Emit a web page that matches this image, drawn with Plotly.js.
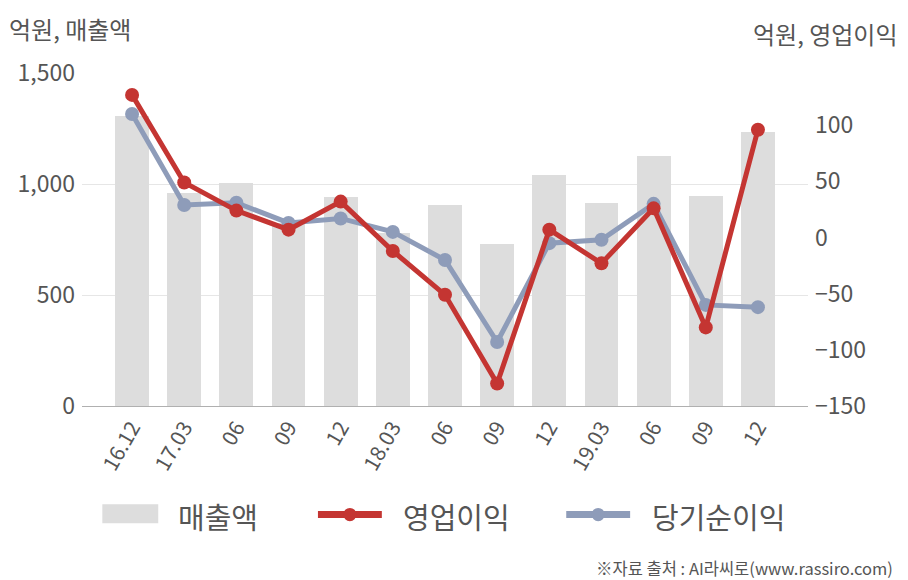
<!DOCTYPE html>
<html><head><meta charset="utf-8">
<script src="https://cdn.plot.ly/plotly-3.0.1.min.js"></script>
<style>html,body{margin:0;padding:0;background:#fff}#c{width:908px;height:580px}</style>
</head><body><div id="c"></div>
<script>
const categories = ["16.12","17.03","06","09","12","18.03","06","09","12","19.03","06","09","12"];
const sales = [1308, 959, 1004, 825, 940, 779, 906, 730, 1042, 914, 1128, 947, 1233];
const opProfit = [127, 49, 24, 7, 32, -12, -51, -130, 7, -23, 26, -80, 96];
const netIncome = [110, 29, 31, 13, 17, 5, -20, -93, -5, -2, 30, -60, -62];
const leftTicks = [0, 500, 1000, 1500];
const leftTickText = ["0", "500", "1,000", "1,500"];
const rightTicks = [-150, -100, -50, 0, 50, 100];

const idx = categories.map((_, i) => i);
const FONT = "'Noto Sans CJK KR', 'Noto Sans', sans-serif";
const RED = "#c43532", BLUE = "#8e9cb9", BAR = "#dddddd", TXT = "#555";

const traces = [
  {type: "bar", x: idx, y: sales, name: "매출액", marker: {color: BAR}, width: 0.65, yaxis: "y", showlegend: false, hoverinfo: "skip"},
  {type: "scatter", mode: "lines+markers", x: idx, y: netIncome, name: "당기순이익", yaxis: "y2",
   line: {color: BLUE, width: 5}, marker: {color: BLUE, size: 14}, showlegend: false},
  {type: "scatter", mode: "lines+markers", x: idx, y: opProfit, name: "영업이익", yaxis: "y2",
   line: {color: RED, width: 5}, marker: {color: RED, size: 14}, showlegend: false}
];

const layout = {
  width: 908, height: 580,
  margin: {l: 82, r: 100, t: 73, b: 174},
  paper_bgcolor: "#fff", plot_bgcolor: "#fff",
  font: {family: FONT, color: TXT},
  showlegend: false,
  bargap: 0,
  xaxis: {
    range: [-0.96, 12.96], tickvals: idx, ticktext: categories, tickangle: -60,
    tickfont: {size: 21, color: TXT, family: FONT},
    showgrid: false, showline: true, linecolor: "#b0b0b0", linewidth: 1,
    ticks: "", zeroline: false, fixedrange: true
  },
  yaxis: {
    range: [0, 1500], tickvals: leftTicks, ticktext: leftTickText,
    tickfont: {size: 23, color: TXT, family: FONT},
    showgrid: true, gridcolor: "#e6e6e6", gridwidth: 1, zeroline: false,
    ticks: "", ticklabelstandoff: 6, showline: false
  },
  yaxis2: {
    overlaying: "y", side: "right", range: [-150, 146.5], tickvals: rightTicks,
    tickfont: {size: 23, color: TXT, family: FONT},
    showgrid: false, zeroline: false, ticks: "", ticklabelstandoff: 6, showline: false
  },
  annotations: [
    {xref: "paper", yref: "paper", x: -0.103, y: 1, xanchor: "left", yanchor: "bottom", yshift: 25,
     text: "억원, 매출액", showarrow: false, font: {size: 24, color: TXT, family: FONT}},
    {xref: "paper", yref: "paper", x: 1.127, y: 1, xanchor: "right", yanchor: "bottom", yshift: 20,
     text: "억원, 영업이익", showarrow: false, font: {size: 24, color: TXT, family: FONT}},
    {xref: "paper", yref: "paper", x: 0.13, y: -0.33, xanchor: "left", yanchor: "middle",
     text: "매출액", showarrow: false, font: {size: 29, color: TXT, family: FONT}},
    {xref: "paper", yref: "paper", x: 0.44, y: -0.33, xanchor: "left", yanchor: "middle",
     text: "영업이익", showarrow: false, font: {size: 29, color: TXT, family: FONT}},
    {xref: "paper", yref: "paper", x: 0.783, y: -0.33, xanchor: "left", yanchor: "middle",
     text: "당기순이익", showarrow: false, font: {size: 29, color: TXT, family: FONT}},
    {xref: "paper", yref: "paper", x: 1.12, y: -0.485, xanchor: "right", yanchor: "middle",
     text: "※자료 출처 : AI라씨로(www.rassiro.com)", showarrow: false, font: {size: 16.5, color: TXT, family: FONT}}
  ],
  shapes: [
    {type: "rect", xref: "paper", yref: "paper", x0: 0.028, x1: 0.105, y0: -0.352, y1: -0.295, fillcolor: BAR, line: {width: 0}},
    {type: "line", xref: "paper", yref: "paper", x0: 0.325, x1: 0.413, y0: -0.326, y1: -0.326, line: {color: RED, width: 7}},
    {type: "circle", xref: "paper", yref: "paper", x0: 0.360, x1: 0.378, y0: -0.346, y1: -0.306, fillcolor: RED, line: {width: 0}},
    {type: "line", xref: "paper", yref: "paper", x0: 0.667, x1: 0.755, y0: -0.326, y1: -0.326, line: {color: BLUE, width: 7}},
    {type: "circle", xref: "paper", yref: "paper", x0: 0.702, x1: 0.720, y0: -0.346, y1: -0.306, fillcolor: BLUE, line: {width: 0}}
  ]
};

Plotly.newPlot("c", traces, layout, {displayModeBar: false, staticPlot: true});
</script>
</body></html>
